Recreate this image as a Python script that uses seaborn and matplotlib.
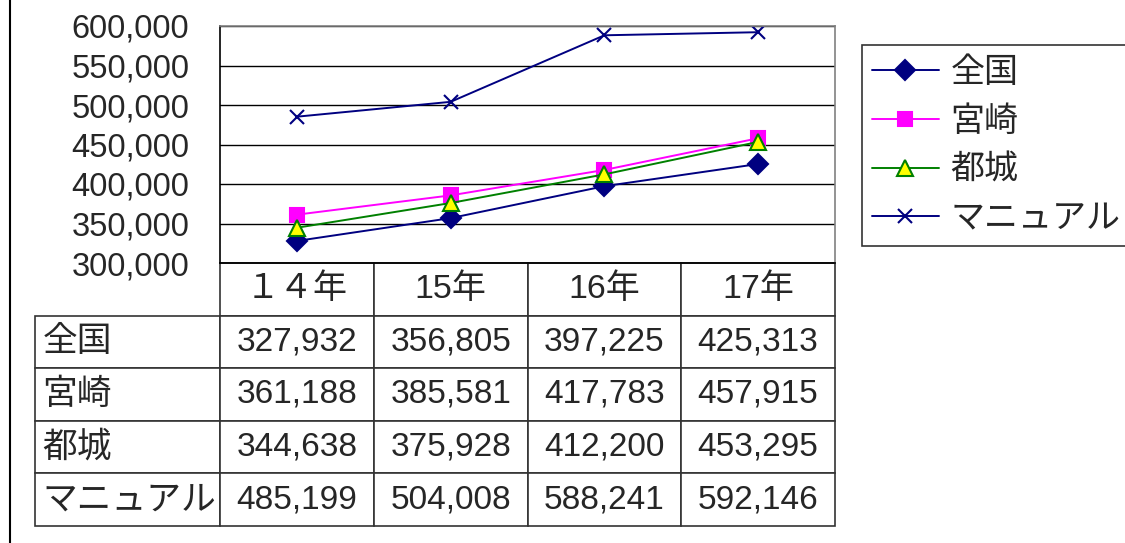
import numpy as np
import pandas as pd
import matplotlib
matplotlib.use("Agg")
import matplotlib.pyplot as plt
from matplotlib.lines import Line2D
from matplotlib.ticker import StrMethodFormatter
import seaborn as sns

# data
years = ["１４年", "15年", "16年", "17年"]
zenkoku = [327932, 356805, 397225, 425313]
miyazaki = [361188, 385581, 417783, 457915]
miyakonojo = [344638, 375928, 412200, 453295]
manual = [485199, 504008, 588241, 592146]
series_names = ["全国", "宮崎", "都城", "マニュアル"]

sns.set_theme(style="white")
plt.rcParams["font.family"] = ["Liberation Sans", "Noto Sans CJK JP", "DejaVu Sans"]

fig = plt.figure(figsize=(11.25, 5.43), dpi=100)
ax = fig.add_axes([220 / 1125, 1 - 263 / 543, 615 / 1125, 237 / 543])

x = np.arange(len(years))
styles = [
    (zenkoku, "D", 10, "#000080", "#000080", "#000080"),
    (miyazaki, "s", 10, "#FF00FF", "#FF00FF", "#FF00FF"),
    (miyakonojo, "^", 11, "#008000", "#FFFF00", "#008000"),
    (manual, "x", 10, "#000080", "#000080", "#000080"),
]
for name, (vals, mk, ms, col, face, edge) in zip(series_names, styles):
    sns.lineplot(x=x, y=vals, ax=ax, color=col, marker=mk, markersize=ms,
                 markerfacecolor=face, markeredgecolor=edge, markeredgewidth=1.5,
                 linewidth=1.4, label=name, sort=False)

ax.set_xlim(-0.5, len(years) - 0.5)
ax.set_ylim(300000, 600000)
ax.set_yticks(np.arange(300000, 600001, 50000))
ax.yaxis.set_major_formatter(StrMethodFormatter("{x:,.0f}"))
ax.tick_params(axis="y", length=0, pad=22, labelsize=23.5)
ax.set_xticks([])
ax.set_xlabel("")
ax.set_ylabel("")
ax.grid(axis="y", color="black", linewidth=1)
for side in ["left", "bottom"]:
    ax.spines[side].set_color("black")
for side in ["top", "right"]:
    ax.spines[side].set_color("#808080")
for s in ax.spines.values():
    s.set_linewidth(1.2)

ax.get_legend().remove()
handles, labels = ax.get_legend_handles_labels()
leg = fig.legend(handles, labels, loc="upper left", bbox_to_anchor=(862 / 1125, 1 - 45 / 543),
                 borderaxespad=0, fontsize=24.5, frameon=True, fancybox=False,
                 edgecolor="black", handlelength=1.95, handletextpad=0.35,
                 labelspacing=0.4, borderpad=0.3)
leg.get_frame().set_linewidth(1.2)
for t in leg.get_texts():
    t.set_family(["Noto Sans CJK JP"])

# data table under the plot
cell_text = [[""] + years]
for name, vals in zip(series_names, [zenkoku, miyazaki, miyakonojo, manual]):
    cell_text.append([name] + [f"{v:,}" for v in vals])
col_widths = [185 / 800] + [153.75 / 800] * 4
tbl = ax.table(cellText=cell_text, colWidths=col_widths, cellLoc="center",
               bbox=[-185 / 615, -263 / 237, 800 / 615, 263 / 237])
tbl.auto_set_font_size(False)
for (r, c), cell in tbl.get_celld().items():
    cell.set_edgecolor("#333333")
    cell.set_linewidth(1.2)
    txt = cell.get_text()
    if r == 0 and c == 0:
        cell.visible_edges = ""
    if c == 0:
        cell.PAD = 0.04
        txt.set_ha("left")
        cell._loc = "left"
        txt.set_family(["Noto Sans CJK JP"])
        txt.set_fontsize(25)
    elif r == 0:
        txt.set_fontsize(24.5)
    else:
        txt.set_fontsize(24)

fig.add_artist(Line2D([10 / 1125, 10 / 1125], [0, 1], transform=fig.transFigure,
                      color="black", linewidth=1.5))

fig.savefig("out.png", dpi=100)
